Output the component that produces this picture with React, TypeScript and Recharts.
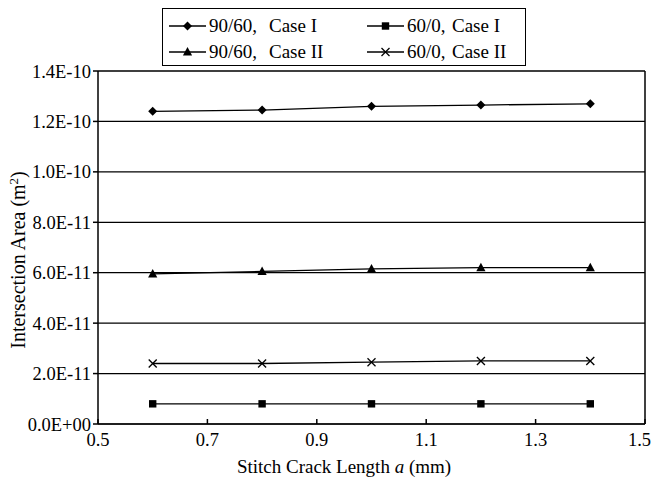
import React from 'react';
import { LineChart, Line, XAxis, YAxis, CartesianGrid, ReferenceLine } from 'recharts';

// values
const crackLength = [0.6, 0.8, 1.0, 1.2, 1.4];
const area9060CaseI = [1.24e-10, 1.245e-10, 1.26e-10, 1.265e-10, 1.27e-10];
const area600CaseI = [8e-12, 8e-12, 8e-12, 8e-12, 8e-12];
const area9060CaseII = [5.95e-11, 6.05e-11, 6.15e-11, 6.2e-11, 6.2e-11];
const area600CaseII = [2.4e-11, 2.4e-11, 2.45e-11, 2.5e-11, 2.5e-11];

const xTicks = [0.5, 0.7, 0.9, 1.1, 1.3, 1.5];
const yTicks = [0, 2e-11, 4e-11, 6e-11, 8e-11, 1e-10, 1.2e-10, 1.4e-10];

const FONT = 'Liberation Serif, DejaVu Serif, serif';

const data = crackLength.map((a, i) => ({
  a,
  s1: area9060CaseI[i],
  s2: area600CaseI[i],
  s3: area9060CaseII[i],
  s4: area600CaseII[i],
}));

const sciFormat = (v: number) => {
  if (v === 0) return '0.0E+00';
  const exp = Math.floor(Math.log10(v) + 1e-9);
  const mant = v / Math.pow(10, exp);
  const e = Math.abs(exp).toString().padStart(2, '0');
  return `${mant.toFixed(1)}E${exp < 0 ? '-' : '+'}${e}`;
};

type Shape = 'diamond' | 'square' | 'triangle' | 'cross';

const marker = (shape: Shape, cx: number, cy: number, key?: any) => {
  switch (shape) {
    case 'diamond':
      return <polygon key={key} points={`${cx},${cy - 4.5} ${cx + 4.5},${cy} ${cx},${cy + 4.5} ${cx - 4.5},${cy}`} fill="#000" />;
    case 'square':
      return <rect key={key} x={cx - 3.7} y={cy - 3.7} width={7.4} height={7.4} fill="#000" />;
    case 'triangle':
      return <polygon key={key} points={`${cx},${cy - 5} ${cx + 4.6},${cy + 3.5} ${cx - 4.6},${cy + 3.5}`} fill="#000" />;
    default:
      return (
        <g key={key} stroke="#000" strokeWidth={1.3}>
          <line x1={cx - 4} y1={cy - 4} x2={cx + 4} y2={cy + 4} />
          <line x1={cx - 4} y1={cy + 4} x2={cx + 4} y2={cy - 4} />
        </g>
      );
  }
};

const dotFor = (shape: Shape) => (p: any) => marker(shape, p.cx, p.cy, `${shape}-${p.index}`);

const legendItems: { layup: string; caseName: string; shape: Shape }[] = [
  { layup: '90/60,', caseName: 'Case I', shape: 'diamond' },
  { layup: '60/0,', caseName: 'Case I', shape: 'square' },
  { layup: '90/60,', caseName: 'Case II', shape: 'triangle' },
  { layup: '60/0,', caseName: 'Case II', shape: 'cross' },
];

// legend box sits outside the plot, drawn as a plain overlay
const LegendBox = () => (
  <div
    style={{
      position: 'absolute',
      left: 162,
      top: 8,
      width: 364,
      height: 58,
      border: '1.3px solid #000',
      boxSizing: 'border-box',
      fontFamily: FONT,
      fontSize: 19,
      background: '#fff',
    }}
  >
    {legendItems.map((it, i) => {
      const col = i % 2;
      const row = Math.floor(i / 2);
      const left = col === 0 ? 5 : 203;
      const caseLeft = col === 0 ? 106 : 289;
      const top = row === 0 ? 7 : 33;
      return (
        <div key={i} style={{ position: 'absolute', left: 0, top, height: 20, width: '100%' }}>
          <svg width={40} height={14} style={{ position: 'absolute', left, top: 3 }}>
            <line x1={1} y1={7} x2={38} y2={7} stroke="#000" strokeWidth={1.3} />
            {marker(it.shape, 19.5, 7)}
          </svg>
          <span style={{ position: 'absolute', left: left + 41, top: 0, lineHeight: '20px', whiteSpace: 'pre' }}>
            {it.layup}
          </span>
          <span style={{ position: 'absolute', left: caseLeft, top: 0, lineHeight: '20px', whiteSpace: 'pre' }}>
            {it.caseName}
          </span>
        </div>
      );
    })}
  </div>
);

const XTitle = () => (
  <text x={344} y={473} textAnchor="middle" fontFamily={FONT} fontSize={19} fill="#000">
    Stitch Crack Length <tspan fontStyle="italic">a</tspan>
    {'  (mm)'}
  </text>
);

const YTitle = () => (
  <text
    x={0}
    y={0}
    transform="translate(25, 260) rotate(-90)"
    textAnchor="middle"
    fontFamily={FONT}
    fontSize={20}
    fill="#000"
  >
    Intersection Area (m
    <tspan dy={-7} fontSize={13}>2</tspan>
    <tspan dy={7}>)</tspan>
  </text>
);

export default function App() {
  return (
    <div style={{ position: 'absolute', left: 0, top: 0, width: 651, height: 482, background: '#fff', fontFamily: FONT }}>
      <LineChart
        width={651}
        height={482}
        data={data}
        margin={{ top: 71, right: 6, bottom: 8, left: 0 }}
        style={{ fontFamily: FONT }}
      >
        <CartesianGrid horizontal vertical={false} stroke="#000" strokeWidth={1.2} />
        <XAxis
          dataKey="a"
          type="number"
          domain={[0.5, 1.5]}
          ticks={xTicks}
          tickFormatter={(v: number) => v.toFixed(1)}
          height={50}
          stroke="#000"
          strokeWidth={1.5}
          tickSize={-5}
          tickMargin={14}
          tick={{ fill: '#000', fontSize: 18.5, fontFamily: FONT }}
          label={<XTitle />}
        />
        <YAxis
          type="number"
          domain={[0, 1.4e-10]}
          ticks={yTicks}
          tickFormatter={sciFormat}
          width={98}
          stroke="#000"
          strokeWidth={1.5}
          tickSize={5}
          tickMargin={2}
          interval={0}
          tick={{ fill: '#000', fontSize: 18.5, fontFamily: FONT }}
          label={<YTitle />}
        />
        <ReferenceLine x={1.5} stroke="#000" strokeWidth={1.5} ifOverflow="extendDomain" />
        <ReferenceLine y={1.4e-10} stroke="#000" strokeWidth={1.2} />
        <Line dataKey="s1" stroke="#000" strokeWidth={1.3} dot={dotFor('diamond')} isAnimationActive={false} />
        <Line dataKey="s2" stroke="#000" strokeWidth={1.3} dot={dotFor('square')} isAnimationActive={false} />
        <Line dataKey="s3" stroke="#000" strokeWidth={1.3} dot={dotFor('triangle')} isAnimationActive={false} />
        <Line dataKey="s4" stroke="#000" strokeWidth={1.3} dot={dotFor('cross')} isAnimationActive={false} />
      </LineChart>
      <LegendBox />
    </div>
  );
}
